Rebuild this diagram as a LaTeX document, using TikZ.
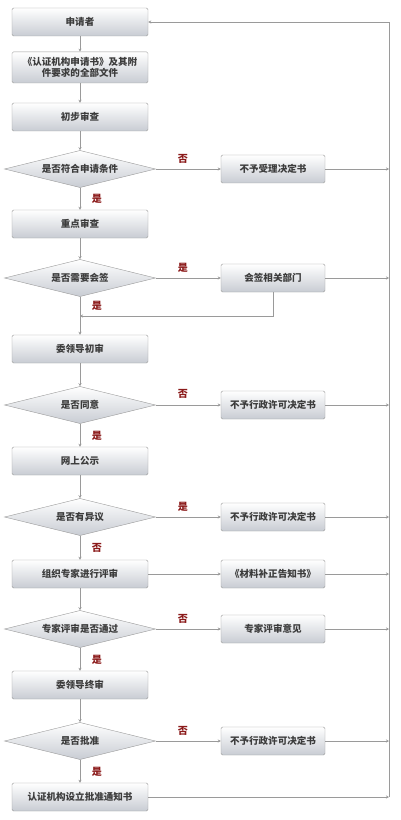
\documentclass[tikz,border=0pt]{standalone}
\usepackage{fontspec}
\newfontfamily\cjk{Noto Sans CJK SC}
\usepackage{tikz}
\usetikzlibrary{shapes.geometric,arrows.meta}
\definecolor{linegray}{HTML}{9A9A9A}
\definecolor{boxgray}{HTML}{C8CCD3}
\definecolor{textgray}{HTML}{3C3C3C}
\definecolor{labelred}{HTML}{8B1A1A}
\tikzset{
    every node/.style={font=\cjk\bfseries\fontsize{9.5}{11.5}\selectfont,
    	text=textgray}
}
\tikzset{
    proc/.style={rectangle, rounded corners=1.5pt, draw=linegray,
    	top color=white, bottom color=boxgray, minimum width=4.76cm,
    	minimum height=0.98cm, align=center, inner sep=1pt},
    result/.style={proc, minimum width=3.64cm},
    decide/.style={diamond, aspect=4, inner sep=0pt, draw=linegray,
    	top color=white, bottom color=boxgray, minimum width=5.29cm,
    	minimum height=1.3cm},
    yesno/.style={text=labelred, font=\cjk\bfseries\fontsize{10}{12}\selectfont}
}
\tikzset{
    every edge/.append style={draw=linegray, line width=0.7pt,
    	-{Stealth[length=3pt,width=3pt]}}
}

\begin{document}
\begin{tikzpicture}
	\useasboundingbox (0cm, 0cm) rectangle (14cm, -28.7cm);
	\node (1) [proc] at (2.8cm, -0.77cm) {申请者};
	\node (2) [proc, minimum height=1.09cm] at (2.8cm, -2.36cm) {《认证机构申请书》及其附\\件要求的全部文件};
	\node (3) [proc] at (2.8cm, -4.095cm) {初步审查};
	\node (4) [decide] at (2.8cm, -5.915cm) {是否符合申请条件};
	\node (5) [proc] at (2.8cm, -7.84cm) {重点审查};
	\node (6) [decide] at (2.8cm, -9.73cm) {是否需要会签};
	\node (7) [proc] at (2.8cm, -12.215cm) {委领导初审};
	\node (8) [decide] at (2.8cm, -14.175cm) {是否同意};
	\node (9) [proc] at (2.8cm, -16.135cm) {网上公示};
	\node (10) [decide] at (2.8cm, -18.095cm) {是否有异议};
	\node (11) [proc] at (2.8cm, -20.09cm) {组织专家进行评审};
	\node (12) [decide] at (2.8cm, -22.015cm) {专家评审是否通过};
	\node (13) [proc] at (2.8cm, -23.975cm) {委领导终审};
	\node (14) [decide] at (2.8cm, -25.935cm) {是否批准};
	\node (15) [proc] at (2.8cm, -27.895cm) {认证机构设立批准通知书};

	\node (16) [result] at (9.555cm, -5.915cm) {不予受理决定书};
	\node (17) [result] at (9.555cm, -9.73cm) {会签相关部门};
	\node (18) [result] at (9.555cm, -14.175cm) {不予行政许可决定书};
	\node (19) [result] at (9.555cm, -18.095cm) {不予行政许可决定书};
	\node (20) [result] at (9.555cm, -20.09cm) {《材料补正告知书》};
	\node (21) [result] at (9.555cm, -22.015cm) {专家评审意见};
	\node (22) [result] at (9.555cm, -25.935cm) {不予行政许可决定书};

	% yes / no marks
	\node (n1) [yesno] at (6.405cm, -5.565cm) {否};
	\node (n2) [yesno] at (3.395cm, -6.965cm) {是};
	\node (n3) [yesno] at (6.405cm, -9.38cm) {是};
	\node (n4) [yesno] at (3.395cm, -10.71cm) {是};
	\node (n5) [yesno] at (6.405cm, -13.79cm) {否};
	\node (n6) [yesno] at (3.395cm, -15.26cm) {是};
	\node (n7) [yesno] at (6.405cm, -17.745cm) {是};
	\node (n8) [yesno] at (3.395cm, -19.18cm) {否};
	\node (n9) [yesno] at (6.405cm, -21.665cm) {否};
	\node (n10) [yesno] at (3.395cm, -23.1cm) {是};
	\node (n11) [yesno] at (6.405cm, -25.585cm) {否};
	\node (n12) [yesno] at (3.395cm, -27.02cm) {是};

	\coordinate (j) at (2.8cm, -11.06cm);
	\coordinate (a1) at (13.615cm, -5.915cm);
	\coordinate (a2) at (13.615cm, -9.73cm);
	\coordinate (a3) at (13.615cm, -14.175cm);
	\coordinate (a4) at (13.615cm, -18.095cm);
	\coordinate (a5) at (13.615cm, -20.09cm);
	\coordinate (a6) at (13.615cm, -22.015cm);
	\coordinate (a7) at (13.615cm, -25.935cm);
	\coordinate (b) at (13.615cm, -27.895cm);

	\draw (1) edge (2); \draw (2) edge (3); \draw (3) edge (4);
	\draw (4) edge (5); \draw (5) edge (6); \draw (6) edge (7);
	\draw (7) edge (8); \draw (8) edge (9); \draw (9) edge (10);
	\draw (10) edge (11); \draw (11) edge (12); \draw (12) edge (13);
	\draw (13) edge (14); \draw (14) edge (15);

	\draw (4) edge (16); \draw (6) edge (17); \draw (8) edge (18);
	\draw (10) edge (19); \draw (11) edge (20); \draw (12) edge (21);
	\draw (14) edge (22);
	\draw (17.south) edge [to path={|- (\tikztotarget)}] (j);

	\draw (16) edge (a1); \draw (17) edge (a2); \draw (18) edge (a3);
	\draw (19) edge (a4); \draw (20) edge (a5); \draw (21) edge (a6);
	\draw (22) edge (a7); \draw (15) edge (b);
	\draw (b) edge [to path={|- (\tikztotarget)}] (1);
\end{tikzpicture}
\end{document}
